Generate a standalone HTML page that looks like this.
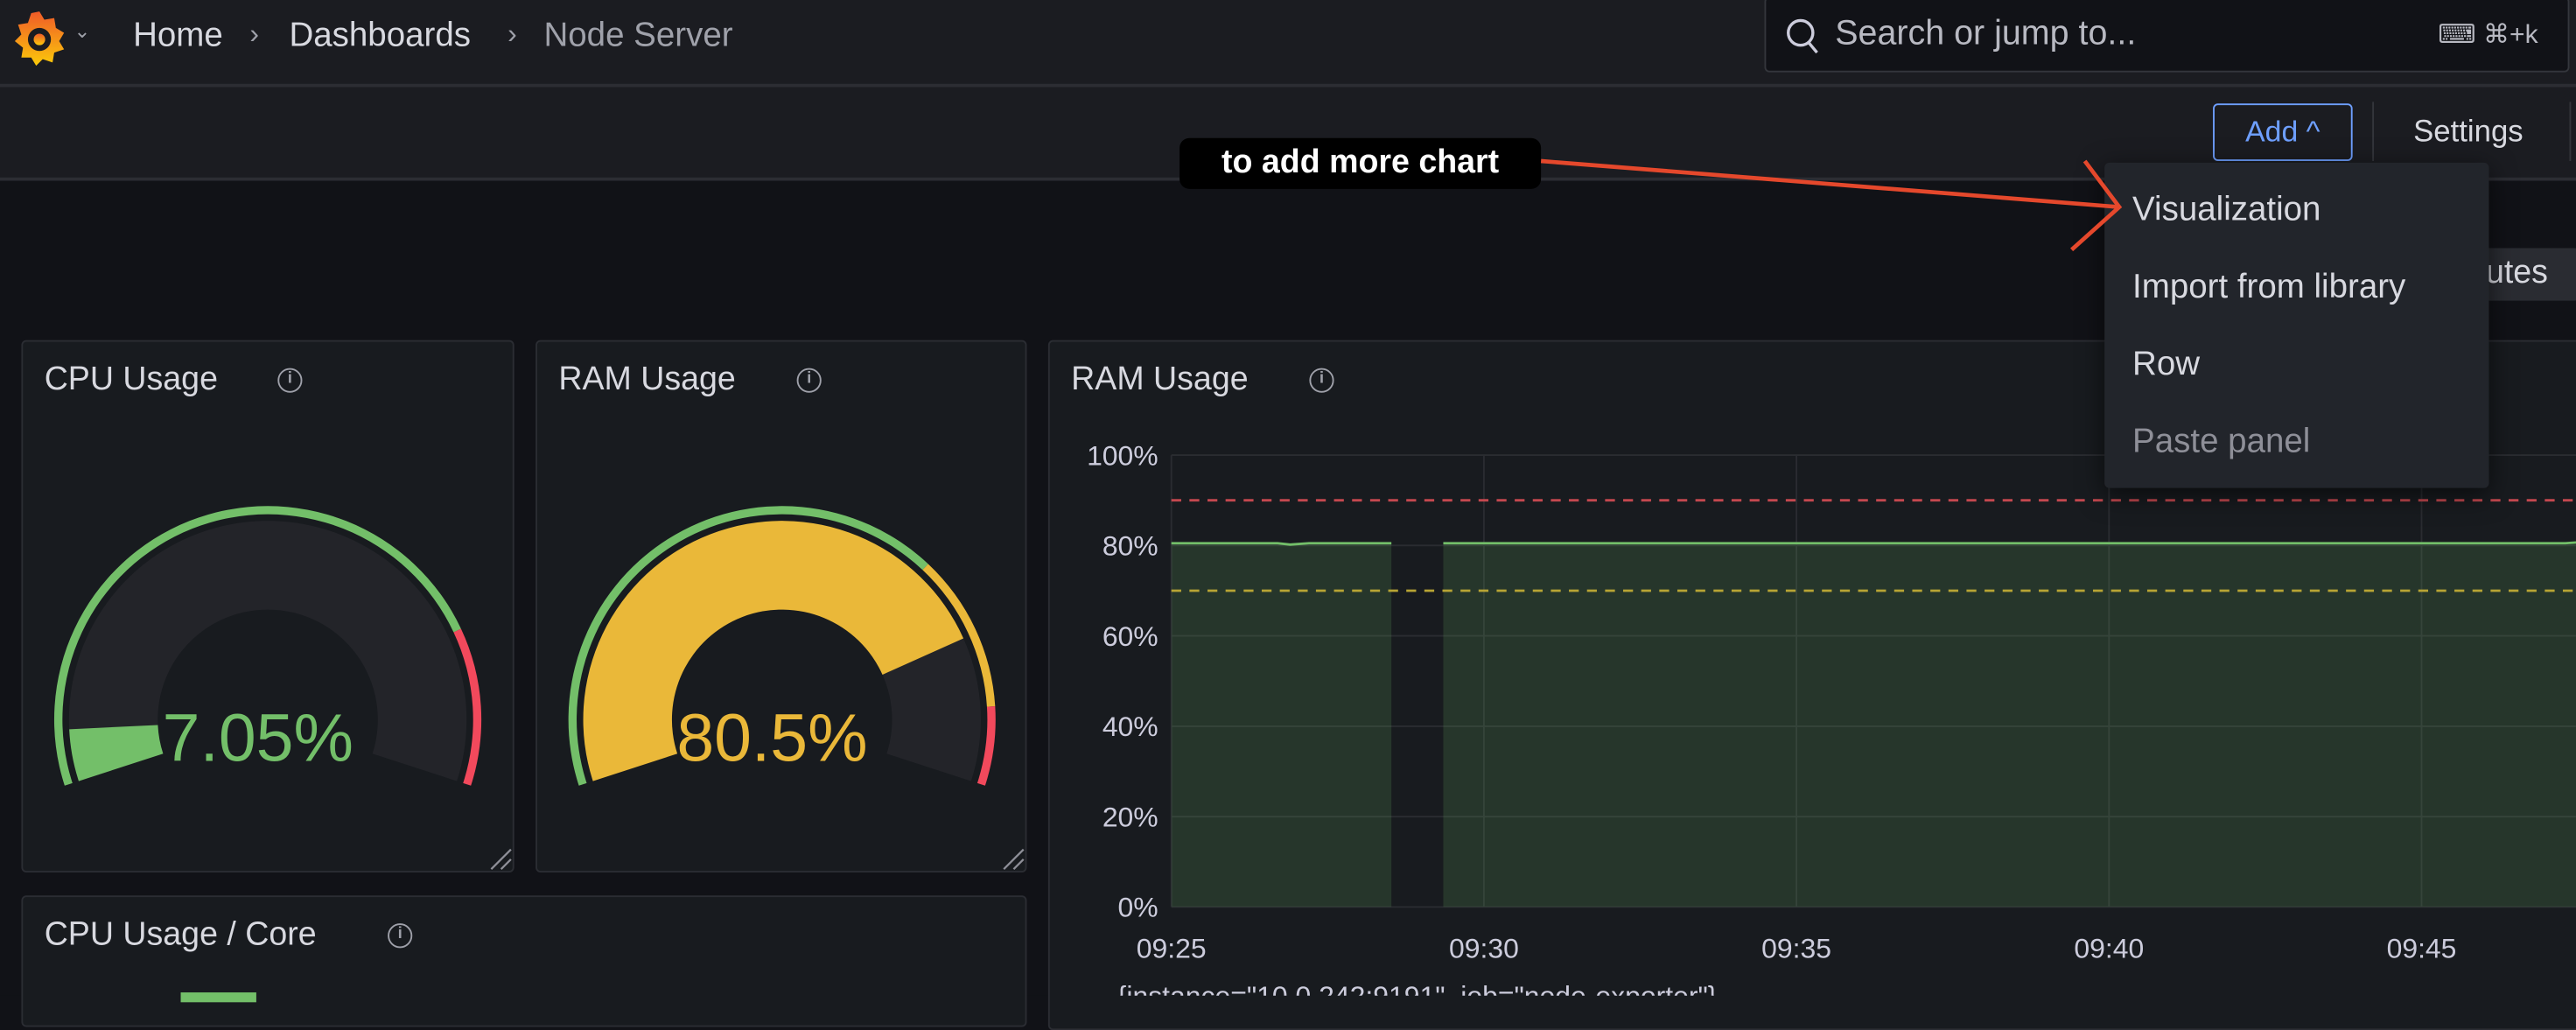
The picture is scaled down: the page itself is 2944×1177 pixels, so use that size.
<!DOCTYPE html>
<html><head><meta charset="utf-8"><style>
html,body{margin:0;padding:0;background:#111217;overflow:hidden;width:2944px;height:1138px}
#root{position:absolute;left:0;top:0;width:1568px;height:606px;transform:scale(1.87755);transform-origin:0 0;font-family:"Liberation Sans",sans-serif;color:#ccccdc;background:#111217}
.abs{position:absolute}
.panel{position:absolute;background:#181b1f;border:1px solid #2b2d33;border-radius:3px;box-sizing:border-box}
.ptitle{position:absolute;left:13px;top:12px;font-size:20px;font-weight:500;color:#d8d9e0;white-space:nowrap}
.info{position:absolute;width:15px;height:15px;border:1.5px solid #9fa1aa;border-radius:50%;box-sizing:border-box;font-size:10px;line-height:12px;text-align:center;color:#9fa1aa;font-weight:bold}
.menuitem{position:absolute;left:17px;font-size:20.5px;color:#d8d9e0;white-space:nowrap}
</style></head><body><div id="root">
<div class="abs" style="left:0;top:0;width:1568px;height:51px;background:#1b1c21;border-bottom:2px solid #2c2d33"></div>
<svg class="abs" style="left:6px;top:4px" width="36" height="38" viewBox="0 0 36 38"><defs><linearGradient id="lg" x1="0" y1="0" x2="0" y2="1"><stop offset="0" stop-color="#f05a28"/><stop offset="1" stop-color="#fbca0a"/></linearGradient></defs><path d="M18 3 L21 8 L27 7 L28 13 L33 16 L30 21 L33 26 L27 28 L26 34 L20 32 L16 36 L13 31 L7 31 L8 25 L3 21 L7 17 L5 11 L11 10 L13 4Z" fill="url(#lg)"/><circle cx="18" cy="20" r="7" fill="#1b1c21"/><circle cx="18" cy="20" r="3.5" fill="url(#lg)"/></svg>
<div class="abs" style="left:45px;top:12px;font-size:12px;color:#9fa1aa">&#8964;</div>
<div class="abs" style="left:81px;top:10px;font-size:20.5px;color:#d8d9e0">Home</div>
<div class="abs" style="left:152px;top:11px;font-size:17px;color:#9fa1aa">›</div>
<div class="abs" style="left:176px;top:10px;font-size:20.5px;color:#d8d9e0">Dashboards</div>
<div class="abs" style="left:309px;top:11px;font-size:17px;color:#9fa1aa">›</div>
<div class="abs" style="left:331px;top:10px;font-size:20.5px;color:#9fa1aa">Node Server</div>
<div class="abs" style="left:1074px;top:-2px;width:490px;height:46px;background:#111217;border:1px solid #34363c;border-radius:3px;box-sizing:border-box">
<svg class="abs" style="left:12px;top:11px" width="22" height="24"><circle cx="9" cy="10" r="7.5" stroke="#ccccdc" stroke-width="1.8" fill="none"/><line x1="14" y1="16" x2="19" y2="22" stroke="#ccccdc" stroke-width="1.8"/></svg>
<div class="abs" style="left:42px;top:10px;font-size:21px;color:#b8b9c2">Search or jump to...</div>
<div class="abs" style="left:409px;top:12px;font-size:16px;color:#b8b9c2">⌨ ⌘+k</div></div>
<div class="abs" style="left:0;top:53px;width:1568px;height:55px;background:#1b1c21;border-bottom:2px solid #2c2d33"></div>
<div class="abs" style="left:1347px;top:63px;width:85px;height:35px;border:1.5px solid #6e9fff;border-radius:3px;box-sizing:border-box;color:#6e9fff;font-size:18px;line-height:32px;text-align:center;font-weight:500">Add ^</div>
<div class="abs" style="left:1444px;top:62px;width:1px;height:36px;background:#34363c"></div>
<div class="abs" style="left:1469px;top:69px;font-size:18.5px;color:#d8d9e0;font-weight:500">Settings</div>
<div class="abs" style="left:1564px;top:62px;width:1px;height:36px;background:#34363c"></div>
<div class="abs" style="left:1490px;top:151px;width:80px;height:32px;background:#2a2c32;border-radius:3px;font-size:20px;color:#d8d9e0;line-height:30px;text-indent:12px">nutes</div>

<div class="panel" style="left:13px;top:207px;width:300px;height:324px"><div class="ptitle">CPU Usage</div><div class="info" style="left:155px;top:16px">i</div></div>
<div class="panel" style="left:326px;top:207px;width:299px;height:324px"><div class="ptitle">RAM Usage</div><div class="info" style="left:158px;top:16px">i</div></div>
<div class="panel" style="left:13px;top:545px;width:612px;height:80px"><div class="ptitle">CPU Usage / Core</div><div class="info" style="left:222px;top:16px">i</div><div class="abs" style="left:96px;top:58px;width:46px;height:6px;background:#73bf69"></div></div>
<div class="panel" style="left:638px;top:207px;width:940px;height:420px"><div class="ptitle">RAM Usage</div><div class="info" style="left:158px;top:16px">i</div></div>

<svg id="gauges" class="abs" style="left:0;top:0" width="640" height="540"></svg>
<svg id="chart" class="abs" style="left:0;top:0" width="1568" height="606"></svg>

<div class="abs" style="left:1281px;top:99px;width:234px;height:198px;background:#22252b;border-radius:3px;box-shadow:0 4px 16px rgba(0,0,0,.6)">
<div class="menuitem" style="top:17px">Visualization</div>
<div class="menuitem" style="top:64px">Import from library</div>
<div class="menuitem" style="top:111px">Row</div>
<div class="menuitem" style="top:158px;color:#8e8f98">Paste panel</div></div>

<div class="abs" style="left:718px;top:84px;width:220px;height:31px;background:#000;border-radius:6px;color:#fff;font-weight:bold;font-size:20px;line-height:30px;text-align:center">to add more chart</div>
<svg class="abs" style="left:0;top:0" width="1568" height="606"><g stroke="#e5482c" stroke-width="2.5" fill="none"><line x1="938" y1="98" x2="1290" y2="126"/><polyline points="1269,98 1290,126 1261,152"/></g></svg>
</div>
<script>
// Gauge data
const gaugeNames=['cpu-gauge','ram-gauge'];
const gaugeValues=[7.05,80.5];
const gaugeLabels=['7.05%','80.5%'];
const gaugeCenters=[[163,438],[476,438]];
const gaugeThresholds=[[[0,'#73bf69'],[80,'#f2495c']],[[0,'#73bf69'],[70,'#eab839'],[90,'#f2495c']]];
const NS='http://www.w3.org/2000/svg';
function ang(f){return (198-216*f/100)*Math.PI/180;}
function arcPath(cx,cy,r1,r2,f0,f1){
  const a0=ang(f0),a1=ang(f1),large=(f1-f0)*2.16>180?1:0;
  const p=(r,a)=>[cx+r*Math.cos(a),cy-r*Math.sin(a)];
  const A=p(r2,a0),B=p(r2,a1),C=p(r1,a1),D=p(r1,a0);
  return `M${A} A${r2},${r2} 0 ${large} 1 ${B} L${C} A${r1},${r1} 0 ${large} 0 ${D}Z`;
}
const gs=document.getElementById('gauges');
function mk(tag,attrs,parent){const e=document.createElementNS(NS,tag);for(const k in attrs)e.setAttribute(k,attrs[k]);parent.appendChild(e);return e;}
gaugeValues.forEach((v,i)=>{
  const [cx,cy]=gaugeCenters[i];const th=gaugeThresholds[i];
  const g=mk('g',{},gs);
  
  
  th.forEach((t,j)=>{const end=j<th.length-1?th[j+1][0]:100;
    const s=mk('path',{d:arcPath(cx,cy,125,130,t[0],end),fill:t[1]},g);
    
    });
  mk('path',{d:arcPath(cx,cy,67,121,0,100),fill:'#232429'},g);
  let col=th[0][1];th.forEach(t=>{if(v>=t[0])col=t[1];});
  const f=mk('path',{d:arcPath(cx,cy,67,121,0,v),fill:col},g);
  
  
  const tx=mk('text',{x:cx-6,y:cy+25,'text-anchor':'middle','font-size':41,fill:col,'font-family':'Liberation Sans, sans-serif'},g);
  tx.textContent=gaugeLabels[i];
  
  
});
// Resize corners
[[313,531],[625,531]].forEach(([x,y])=>{const l=mk('path',{d:`M${x-14},${y-2} L${x-2},${y-14} M${x-8},${y-2} L${x-2},${y-8}`,stroke:'#8e8f98','stroke-width':1.2},gs);
  
  });

// Chart data
const timeMinutes=[0,1,1.7,1.9,2.2,3.52,3.9,4.35,8,11,14,17,20,22.3,22.6,24];
const ramValues=[80.5,80.5,80.5,80.2,80.5,80.5,null,80.5,80.5,80.5,80.5,80.5,80.5,80.5,80.8,80.8];
const yTicks=[0,20,40,60,80,100];
const yTickLabels=['0%','20%','40%','60%','80%','100%'];
const xTicks=[0,5,10,15,20];
const xTickLabels=['09:25','09:30','09:35','09:40','09:45'];
const thresholdValues=[90,70];
const thresholdColors=['#c4484f','#b8a434'];
const X=m=>713+m*38.05, Y=v=>552-v*2.75;
const ch=document.getElementById('chart');
yTicks.forEach((t,i)=>{mk('line',{x1:713,x2:1568,y1:Y(t),y2:Y(t),stroke:'#2a2c31','stroke-width':1},ch);
  const l=mk('text',{x:705,y:Y(t)+6,'text-anchor':'end','font-size':17,fill:'#ccccdc','font-family':'Liberation Sans, sans-serif'},ch);
  l.textContent=yTickLabels[i];
  
  });
xTicks.forEach((t,i)=>{mk('line',{x1:X(t),x2:X(t),y1:Y(100),y2:Y(0),stroke:'#2a2c31','stroke-width':1},ch);
  const l=mk('text',{x:X(t),y:583,'text-anchor':'middle','font-size':17,fill:'#ccccdc','font-family':'Liberation Sans, sans-serif'},ch);
  l.textContent=xTickLabels[i];
  
  });
let segs=[],cur=[];
timeMinutes.forEach((t,i)=>{if(ramValues[i]==null){if(cur.length)segs.push(cur);cur=[];}else cur.push([t,ramValues[i]]);});
if(cur.length)segs.push(cur);
segs.forEach(s=>{
  const pts=s.map(p=>X(p[0])+','+Y(p[1])).join(' ');
  const a=mk('polygon',{points:`${X(s[0][0])},${Y(0)} ${pts} ${X(s[s.length-1][0])},${Y(0)}`,fill:'#73bf69','fill-opacity':0.17},ch);
  
  
  const l=mk('polyline',{points:pts,fill:'none',stroke:'#73bf69','stroke-width':1.5},ch);
  
  
});
thresholdValues.forEach((v,i)=>{const l=mk('line',{x1:713,x2:1568,y1:Y(v),y2:Y(v),stroke:thresholdColors[i],'stroke-width':1.5,'stroke-dasharray':'6 5'},ch);
  
  });
const lg=mk('text',{x:680,y:612,'font-size':17,fill:'#ccccdc','font-family':'Liberation Sans, sans-serif'},ch);
lg.textContent='{instance="10.0.242:9191", job="node-exporter"}';


</script>
</body></html>
